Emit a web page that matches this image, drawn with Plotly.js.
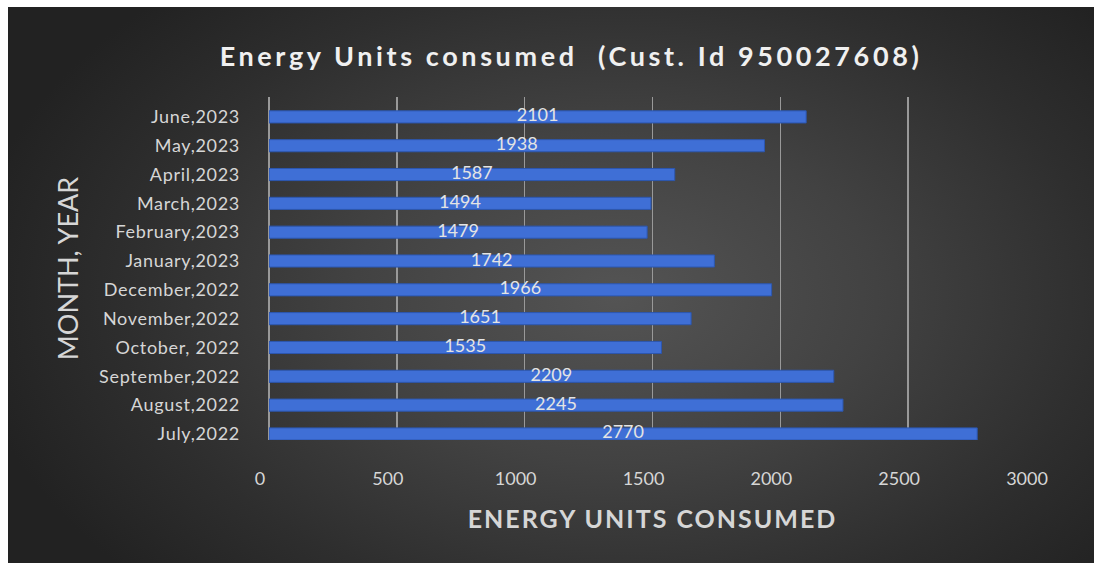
<!DOCTYPE html>
<html>
<head>
<meta charset="utf-8">
<script src="https://cdn.plot.ly/plotly-3.0.1.min.js"></script>
<style>
  html, body { margin: 0; padding: 0; background: #ffffff; width: 1094px; height: 563px; overflow: hidden; }
  #bg {
    position: absolute; left: 8px; top: 7px; width: 1086px; height: 556px;
    background: radial-gradient(ellipse 60% 75% at 56% 52%, #545454 0%, #424242 40%, #2e2e2e 75%, #222222 100%);
  }
  #chart { position: absolute; left: 0; top: 0; width: 1094px; height: 563px; }
  .gtitle { letter-spacing: 3.6px; }
  .g-xtitle text { letter-spacing: 2px; }
  .ytick text { letter-spacing: 0.7px; }
</style>
</head>
<body>
<div id="bg"></div>
<div id="chart"></div>
<script>
// Categories listed bottom to top
const months = [
  "July,2022", "August,2022", "September,2022", "October, 2022",
  "November,2022", "December,2022", "January,2023", "February,2023",
  "March,2023", "April,2023", "May,2023", "June,2023"
];
const unitsConsumed = [2770, 2245, 2209, 1535, 1651, 1966, 1742, 1479, 1494, 1587, 1938, 2101];
const xTickValues = [0, 500, 1000, 1500, 2000, 2500, 3000];

const chartTitle = "Energy Units consumed  (Cust. Id 950027608)";
const xTitle = "ENERGY UNITS CONSUMED";
const yTitle = "MONTH, YEAR";

const fontFamily = "Lato, 'Open Sans', sans-serif";
const labelColor = "#d6d6d6";

const bars = {
  type: "bar",
  orientation: "h",
  y: months,
  x: unitsConsumed,
  width: 0.42,
  marker: { color: "#3f6fd6", line: { color: "#2c57b0", width: 1 } },
  hoverinfo: "skip"
};

const labels = {
  type: "scatter",
  mode: "text",
  y: months,
  x: unitsConsumed.map(v => v / 2),
  text: unitsConsumed.map(String),
  textposition: "middle center",
  textfont: { family: fontFamily, size: 18, color: "#e4e4e4" },
  hoverinfo: "skip",
  showlegend: false
};

const layout = {
  width: 1094,
  height: 563,
  paper_bgcolor: "rgba(0,0,0,0)",
  plot_bgcolor: "rgba(0,0,0,0)",
  showlegend: false,
  margin: { l: 269, r: 58, t: 97, b: 123, pad: 0 },
  title: {
    text: "<b>" + chartTitle + "</b>",
    font: { family: fontFamily, size: 27, color: "#f0f0f0" },
    x: 0.522, xanchor: "center",
    y: 1 - 57 / 563, yref: "container", yanchor: "middle"
  },
  xaxis: {
    range: [0, 3000],
    tickvals: xTickValues,
    ticktext: xTickValues.map(String),
    tickfont: { family: fontFamily, size: 18, color: labelColor },
    ticklabelstandoff: 26,
    ticklabelshift: -9,
    showgrid: true,
    gridcolor: "#999999",
    gridwidth: 1.5,
    zeroline: true,
    zerolinecolor: "#999999",
    zerolinewidth: 1.5,
    showline: false,
    ticks: "",
    fixedrange: true,
    title: {
      text: xTitle,
      font: { family: fontFamily, size: 25, color: labelColor, weight: "bold" },
      standoff: 22
    },
    automargin: false
  },
  yaxis: {
    type: "category",
    range: [-0.21, 11.69],
    tickfont: { family: fontFamily, size: 18, color: labelColor },
    showgrid: false,
    zeroline: false,
    showline: false,
    ticks: "",
    ticklabelstandoff: 28,
    fixedrange: true,
    title: {
      text: yTitle,
      font: { family: fontFamily, size: 27, color: labelColor },
      standoff: 12
    },
    automargin: false
  }
};

Plotly.newPlot("chart", [bars, labels], layout, { staticPlot: true, displayModeBar: false });
</script>
</body>
</html>
